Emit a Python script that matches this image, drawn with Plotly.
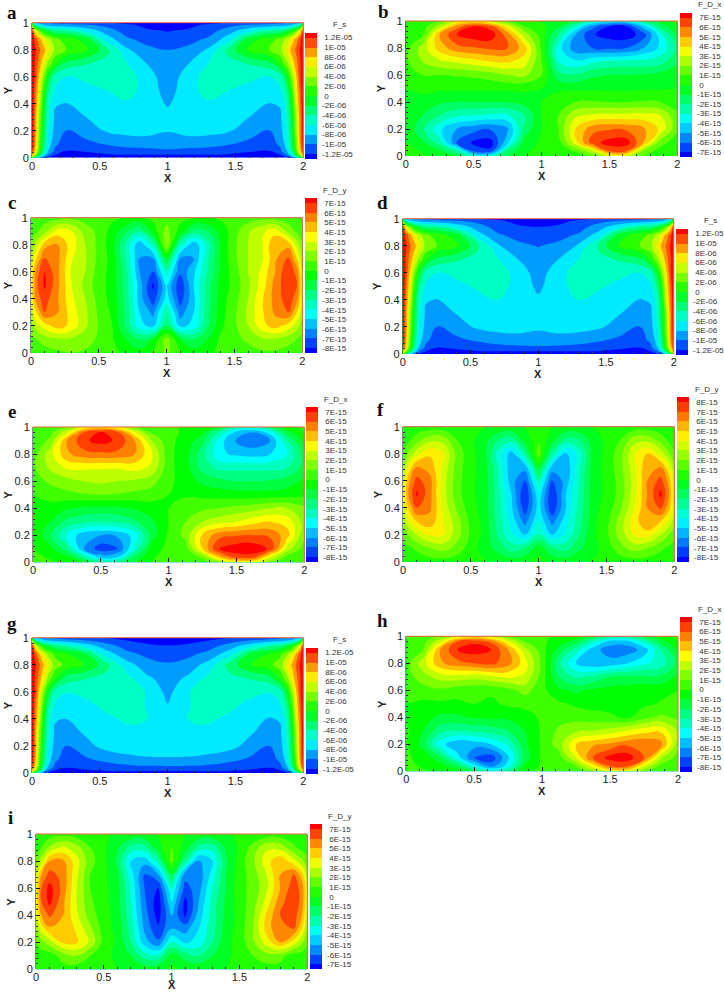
import plotly.graph_objects as go

# ---------- grids ----------
FS_X = [0,.02,.05,.08,.12,.17,.25,.4,.55,.7,.85,1,1.15,1.3,1.45,1.6,1.75,1.83,1.88,1.92,1.95,1.98,2]
FS_Y = [0,.02,.05,.1,.2,.3,.4,.5,.6,.7,.8,.88,.94,.98,1]
DX_X = [0,.125,.25,.375,.5,.625,.75,.875,1,1.125,1.25,1.375,1.5,1.625,1.75,1.875,2]
DX_Y = [0,.04,.1,.2,.3,.4,.5,.6,.7,.8,.9,.96,1]
DY_X = [0,.04,.1,.2,.3,.4,.5,.6,.7,.8,.9,1,1.1,1.2,1.3,1.4,1.5,1.6,1.7,1.8,1.9,1.96,2]
DY_Y = [0,.1,.2,.3,.4,.5,.6,.7,.8,.9,1]

# ---------- values (F_s in 1E-6, F_D in 1E-15), rows bottom to top ----------
A_FS = [
[2,-2,-6,-10,-12,-13,-13.5,-13,-13,-13,-13,-13,-13,-13,-13,-13,-13.5,-13,-12,-10,-6,-2,2],
[9,5,-1,-6,-10,-12,-12.8,-12.5,-12.2,-12.1,-12.1,-12.1,-12.1,-12.1,-12.2,-12.5,-12.8,-12,-10,-6,-1,5,9],
[12,8,2,-3,-8,-10.5,-12,-11.8,-11.2,-10.7,-10.6,-10.4,-10.6,-10.7,-11.2,-11.8,-12,-10.5,-8,-3,2,8,12],
[13,9.5,3,-2,-7,-9.6,-11,-10.6,-9.9,-9.4,-9.1,-8.9,-9.1,-9.4,-9.9,-10.6,-11,-9.6,-7,-2,3,9.5,13],
[13.5,10,4,-1,-6,-8.8,-10.1,-9,-7.8,-7.3,-7.3,-7.9,-7.3,-7.3,-7.8,-9,-10.1,-8.8,-6,-1,4,10,13.5],
[14,10,4.5,-.5,-5.5,-8.4,-9,-8,-7,-6.8,-6.9,-7.3,-6.9,-6.8,-7,-8,-9,-8.4,-5.5,-.5,4.5,10,14],
[14,10.5,6,.5,-5,-7.8,-8.1,-7.2,-6.6,-6.3,-6.9,-8.2,-6.9,-6.3,-6.6,-7.2,-8.1,-7.8,-5,.5,6,10.5,14],
[14,11,7,2,-3.5,-6.3,-6.6,-6.5,-6,-5.2,-6.9,-8.8,-6.9,-5.2,-6,-6.5,-6.6,-6.3,-3.5,2,7,11,14],
[14,12,8,4,-1,-5,-6.1,-5.6,-5.2,-4.8,-7.3,-8.9,-7.3,-4.8,-5.2,-5.6,-6.1,-5,-1,4,8,12,14],
[14,12,9.5,7,3.5,.5,-2.5,-3.8,-4.8,-6,-8.1,-9.2,-8.1,-6,-4.8,-3.8,-2.5,.5,3.5,7,9.5,12,14],
[14,12.5,10.5,9,6.5,3.5,2,.5,-3.3,-7.7,-9.5,-10,-9.5,-7.7,-3.3,.5,2,3.5,6.5,9,10.5,12.5,14],
[14,11.5,9,7,4.5,2.5,1,-1,-7,-9.7,-10.7,-11.2,-10.7,-9.7,-7,-1,1,2.5,4.5,7,9,11.5,14],
[12,7,3,0,-2,-3.5,-4,-6.5,-9,-10.9,-11.7,-12.1,-11.7,-10.9,-9,-6.5,-4,-3.5,-2,0,3,7,12],
[4,-3,-6,-7.5,-8,-8.5,-9,-9.6,-10.5,-11.5,-12.5,-13,-12.5,-11.5,-10.5,-9.6,-9,-8.5,-8,-7.5,-6,-3,4],
[0,-8,-9,-9.5,-10,-10.5,-11,-11.5,-12,-12.5,-13.5,-14,-13.5,-12.5,-12,-11.5,-11,-10.5,-10,-9.5,-9,-8,0],
]
D_FS = [
[2,-2,-6,-10,-12,-13,-13.5,-13,-13,-13,-13,-13,-13,-13,-13,-13,-13.5,-13,-12,-10,-6,-2,2],
[9,5,-1,-6,-10,-12,-12.8,-12.4,-12.1,-12,-12,-12,-12,-12,-12.1,-12.4,-12.8,-12,-10,-6,-1,5,9],
[12,8,2,-3,-8,-10.5,-11.9,-11.6,-11.1,-10.6,-10.4,-10.3,-10.4,-10.6,-11.1,-11.6,-11.9,-10.5,-8,-3,2,8,12],
[13,9.5,3,-2,-7,-9.6,-10.9,-10.5,-9.8,-9.2,-8.9,-8.8,-8.9,-9.2,-9.8,-10.5,-10.9,-9.6,-7,-2,3,9.5,13],
[13.5,10,4,-1,-6,-8.8,-10.1,-8.9,-7.7,-7.2,-7.2,-7.7,-7.2,-7.2,-7.7,-8.9,-10.1,-8.8,-6,-1,4,10,13.5],
[14,10,4.5,-.5,-5.5,-8.4,-9,-7.9,-6.9,-6.7,-6.8,-7.1,-6.8,-6.7,-6.9,-7.9,-9,-8.4,-5.5,-.5,4.5,10,14],
[14,10.5,6,.5,-5,-7.8,-8.1,-7.1,-6.5,-6,-6.7,-7.7,-6.7,-6,-6.5,-7.1,-8.1,-7.8,-5,.5,6,10.5,14],
[14,11,7,2,-3.5,-6.3,-6.6,-6.4,-5.8,-5.1,-6.8,-8.4,-6.8,-5.1,-5.8,-6.4,-6.6,-6.3,-3.5,2,7,11,14],
[14,12,8,4,-1,-5,-6.1,-5.6,-5.1,-4.7,-7,-8.8,-7,-4.7,-5.1,-5.6,-6.1,-5,-1,4,8,12,14],
[14,12,9.5,7,3.5,.5,-2.5,-3.7,-4.7,-5.9,-8,-9.2,-8,-5.9,-4.7,-3.7,-2.5,.5,3.5,7,9.5,12,14],
[14,12.5,10.5,9,6.5,3.5,2,.5,-3.5,-7.7,-9.5,-10.1,-9.5,-7.7,-3.5,.5,2,3.5,6.5,9,10.5,12.5,14],
[14,11.5,9,7,4.5,2.5,1,-1,-7,-9.7,-10.7,-11.2,-10.7,-9.7,-7,-1,1,2.5,4.5,7,9,11.5,14],
[12,7,3,0,-2,-3.5,-4,-6.5,-9,-10.9,-11.7,-12,-11.7,-10.9,-9,-6.5,-4,-3.5,-2,0,3,7,12],
[4,-3,-6,-7.5,-8,-8.5,-9,-9.6,-10.5,-11.5,-12.5,-13,-12.5,-11.5,-10.5,-9.6,-9,-8.5,-8,-7.5,-6,-3,4],
[0,-8,-9,-9.5,-10,-10.5,-11,-11.5,-12,-12.5,-13.5,-14,-13.5,-12.5,-12,-11.5,-11,-10.5,-10,-9.5,-9,-8,0],
]
G_FS = [
[2,-2,-6,-10,-12,-13,-13.2,-12.8,-12.6,-12.6,-12.6,-12.6,-12.6,-12.6,-12.6,-12.8,-13.2,-13,-12,-10,-6,-2,2],
[9,5,-1,-6,-10,-12,-12.5,-12.1,-11.8,-11.7,-11.8,-11.8,-11.8,-11.7,-11.8,-12.1,-12.5,-12,-10,-6,-1,5,9],
[12,8,2,-3,-8,-10.5,-11.7,-11.3,-10.9,-10.4,-10.1,-10,-10.1,-10.4,-10.9,-11.3,-11.7,-10.5,-8,-3,2,8,12],
[13,9.5,3,-2,-7,-9.6,-10.8,-10.3,-9.4,-8.7,-8.3,-8.2,-8.3,-8.7,-9.4,-10.3,-10.9,-9.6,-7,-2,3,9.5,13],
[13.5,10,4,-1,-6,-8.8,-10,-8.6,-7.3,-6.9,-6.9,-7.1,-6.9,-6.9,-7.3,-8.6,-10,-8.8,-6,-1,4,10,13.5],
[14,10,4.5,-.5,-5.5,-8.4,-8.9,-7.7,-6.7,-6.3,-6.3,-6.5,-6.3,-6.3,-6.7,-7.7,-8.9,-8.4,-5.5,-.5,4.5,10,14],
[14,10.5,6,.5,-5,-7.8,-8,-7,-6.3,-5.8,-6,-7.1,-6,-5.8,-6.3,-7,-8.2,-7.8,-5,.5,6,10.5,14],
[14,11,7,2,-3.5,-6.3,-6.8,-6.4,-5.6,-4.8,-6.2,-7.9,-6.2,-4.8,-5.6,-6.4,-6.8,-6.3,-3.5,2,7,11,14],
[14,12,8,4,-1,-5,-5.9,-5.5,-5,-4.6,-6.2,-8.6,-6.2,-4.6,-5,-5.5,-5.9,-5,-1,4,8,12,14],
[14,12,9.5,7,3.5,.5,-2.8,-3.9,-4.6,-5.4,-7.6,-9,-7.6,-5.4,-4.6,-3.9,-2.8,.5,3.5,7,9.5,12,14],
[14,12.5,10.5,8.5,6,3,1.5,-.2,-3.4,-7.2,-9.2,-9.8,-9.2,-7.2,-3.4,-.2,1.5,3,6,8.5,10.5,12.5,14],
[14,11.5,8.5,6,3.5,1.5,.2,-2,-7,-9.4,-10.5,-10.9,-10.5,-9.4,-7,-2,.2,1.5,3.5,6,8.5,11.5,14],
[12,7,3,0,-2,-3.5,-4.5,-7,-9.2,-10.9,-11.6,-11.9,-11.6,-10.9,-9.2,-7,-4.5,-3.5,-2,0,3,7,12],
[4,-3,-6,-7.5,-8,-8.5,-9.2,-10,-11,-12,-12.6,-13,-12.6,-12,-11,-10,-9.2,-8.5,-8,-7.5,-6,-3,4],
[0,-8,-9,-9.5,-10,-10.5,-11,-11.5,-12,-12.5,-13.5,-14,-13.5,-12.5,-12,-11.5,-11,-10.5,-10,-9.5,-9,-8,0],
]
B_DX = [
[.3,.1,-.2,-1,-3,-3,-1,0,.3,0,.3,1.2,3,3,1,.2,.2],
[.3,-.1,-.8,-2.5,-6.5,-6.8,-1.8,-.2,.3,.3,1.2,3,6.4,6.2,2,.5,.3],
[0,-.8,-2.5,-6,-7.2,-7.4,-4.2,-.6,.2,.5,3.5,6.6,7.4,7.5,5,1.5,.3],
[0,-1.8,-3.8,-5,-5.6,-5.9,-5.2,-1.6,0,1,4,5.6,5.9,5.8,5.2,3.8,1.2],
[0,-1,-2,-2.8,-3,-3.2,-3.2,-2,0,1,2.8,3.2,3.3,3.3,3.4,3,1.2],
[0,-.3,-.8,-1,-1,-1,-.9,-.6,0,.5,1,1.1,1,1,1.1,1,.4],
[0,.2,.2,.2,.2,.2,.2,.2,0,-.2,-.2,-.2,-.2,-.2,-.1,-.1,0],
[.5,1,1,1.1,1.2,1.5,2,2.2,1,-1.6,-1.9,-1.2,-1,-1,-.9,-.7,-.3],
[.8,2,2.8,3.2,3.6,4,4.2,3.5,1,-3,-3.8,-3.2,-2.8,-2.7,-2.7,-2.4,-1.2],
[.6,2.5,4.5,5.6,5.9,6.2,6,4.5,.8,-3.6,-5.6,-6,-6.2,-6,-5,-3.8,-1.8],
[.3,.8,5,7,7.6,7.6,5.5,2.5,.5,-2,-5,-6.9,-7.4,-7.6,-6.5,-3.4,-.8],
[.1,.5,2.5,5.5,7,6.5,3.5,1,.3,-.8,-3,-5.6,-7,-7,-4.5,-1.5,-.3],
[0,.2,1,3,3.5,2.5,1,.3,0,-.3,-1,-2.5,-3.5,-3.5,-2,-.6,.3],
]
E_DX = [
[.3,.1,-.2,-1,-2.5,-2.5,-1,0,.2,0,.5,1.8,3,3,1.2,.3,.2],
[.2,-.1,-.8,-3,-5.5,-5,-1.8,-.1,.3,.3,1.2,4.5,6.5,6.5,3,.6,.3],
[0,-.7,-2.5,-6,-7.6,-7,-3.8,-.5,.3,.5,4,7.2,7.6,7.7,6.8,2.5,.5],
[0,-1.8,-4.2,-5.6,-6,-5.8,-4.6,-1.5,.2,1.3,4.2,5.6,5.9,6,5.8,4.4,1.2],
[0,-1,-2.3,-2.8,-3,-2.8,-2.2,-1.2,0,1,2,2.6,3,3.6,4,3.6,1.6],
[0,-.4,-.9,-1.2,-1.3,-1.2,-.9,-.5,0,.4,.8,1,1.3,1.6,2,2,1.2],
[0,.4,.7,.9,1,.9,.7,.5,0,-.1,-.3,-.4,-.5,-.6,-.6,-.5,-.2],
[.5,1.2,1.6,2,2.2,2,1.8,1.4,.2,-.4,-1.3,-1.7,-2,-2,-1.9,-1.5,-.8],
[.8,2.2,3.2,3.2,3.1,3.1,3.4,2.8,.3,-.6,-2.4,-3.3,-3.3,-3.3,-3.3,-3,-1.6],
[.5,2.6,4.8,5.6,5.8,5.7,5,3.2,.3,-.6,-2.6,-4.8,-5.2,-5.4,-5,-4,-1.6],
[.3,1.2,5,6.8,7.4,6.8,5,2,.3,-.4,-1.6,-4.5,-6.2,-6.7,-6,-3,-.6],
[.1,.6,2.8,6,7.2,6.2,3.2,.8,.3,-.2,-.8,-3.2,-5.3,-6,-4.6,-1.4,-.2],
[0,.2,1,3,3.8,3,1,.3,.2,-.1,-.3,-1.2,-3,-3.5,-2,-.5,.2],
]
H_DX = [
[.3,.1,-.2,-.5,-1.8,-3.2,-2.4,-.2,.2,.2,.5,1.8,3.2,3.2,1.2,.2,.2],
[.2,-.1,-.6,-1.8,-4.5,-6.5,-4.5,-.8,.2,.3,1,3.5,6,6.2,3,.6,.3],
[.2,-.4,-1.6,-4.5,-7,-7.6,-5.2,-1.5,.2,.5,3,6.2,7.4,7.6,6,2.2,.5],
[.2,-1.4,-4.6,-5.8,-5.6,-5,-3.8,-1.2,.2,1.5,4,4.8,5.2,5.8,6,5.4,1.4],
[.2,-1,-2.6,-3,-2.8,-2.5,-2,-1,.2,1.2,1.8,2,2.4,3,3.6,3.8,1.8],
[0,-.6,-1.2,-1.2,-.9,-.8,-.8,-.4,.2,.6,.6,.4,.2,-.2,.6,1.2,.8],
[0,-.2,-.2,-.2,0,-.2,.2,.3,.2,.2,-.2,-.4,-.4,-.2,-.2,.1,.2],
[.3,.5,.8,.4,.2,.2,.6,1.4,.3,-.8,-1.2,-.8,-.6,-.5,-.3,-.3,0],
[.5,1.6,2.4,2.6,2.4,2.8,3.2,2.8,.5,-2,-3.2,-2.8,-2,-1.8,-1.8,-1.8,-.8],
[.5,2.6,4.8,5.6,6,6.3,5.4,3.4,.7,-2.8,-5,-5.8,-5.6,-5,-4.2,-3.6,-1.6],
[.3,1,5,7,7.5,7,5,2.4,.4,-1.4,-3.4,-5.6,-6.5,-6.6,-5.6,-3,-.8],
[.2,.6,2.8,6,6.8,5.8,3.2,1,.2,-.5,-1.5,-3.6,-5.5,-5.5,-3.6,-1.4,-.2],
[0,.2,1,2.6,3.5,2.6,1,.3,.1,-.1,-.3,-1.4,-2.6,-2.6,-1.6,-.5,.4],
]
C_DY = [
[.4,.4,.5,.8,1,.8,.3,.2,-.2,-.6,.2,1.2,.2,-.6,-.2,.2,.3,.6,.8,.8,.5,.4,.4],
[.8,1,1.5,1.8,1.8,1.5,.8,.1,-1,-2,-1,1.5,-1,-2,-1,.2,.7,1.2,1.8,1.8,1.4,1,.7],
[1.5,2.5,3.5,4.6,3.6,2.2,.9,0,-2.2,-4.6,-5.4,-2,-5.4,-4.6,-2.2,-.2,.8,2,3.6,4.5,3.5,2.5,1.4],
[2.5,4,6,5,3.5,2.2,.8,-.2,-2.2,-5,-6.3,-3,-6.5,-5,-2.3,-.4,.8,2.2,3.8,5.2,6,4,2.5],
[3,5.5,6.5,5,3.2,2,.6,-.4,-2.4,-5.5,-7.6,-4.5,-7.5,-5.2,-2.5,-.5,.6,2,3.8,5.4,6.6,5.4,3],
[3.2,5.8,7.2,5.2,3,1.7,.4,-.4,-2.5,-5.5,-8.2,-5,-7.8,-5,-2.5,-.6,.4,1.8,3.4,5.4,6.8,6,3.2],
[3,5.5,7,5.2,2.8,2,.5,-.4,-2.6,-6,-7,-3.5,-6.8,-5.2,-3,-.8,.5,2,3.2,5,7,5.5,3],
[2.2,4,6,5.2,3.1,2.1,.7,-.4,-3,-6,-6,-1,-6,-6,-3.2,-.8,.8,2,2.8,4.8,6.2,4,2],
[1.2,2.5,4.6,5,3.5,2,.7,-.6,-3.2,-5.8,-3.5,2,-3.5,-5.8,-3.5,-.8,.8,2,2.8,5,4.6,2.5,1.2],
[.4,.8,1.6,3.5,3,1.5,.7,-.4,-1.8,-2.8,-.6,1.4,-.4,-2.4,-2,-.6,.6,1.8,2.8,3.5,1.6,.8,.4],
[.2,.3,.4,.6,.8,.6,.4,.2,0,-.2,.3,.6,.3,0,0,.2,.4,.5,.7,.6,.4,.3,.2],
]
F_DY = [
[.3,.3,.4,.5,.5,.4,.2,.1,-.2,-.4,-.2,.3,-.2,-.4,-.2,.1,.2,.4,.5,.5,.4,.3,.3],
[.6,.8,1.2,2,2.4,1.6,.4,-.4,-1.4,-2.5,-2,-.4,-2,-2.4,-1.2,-.3,.4,1.6,2.4,2,1.2,.8,.6],
[1.4,2,3,4.2,4,2.4,.8,-.3,-2.2,-3.8,-5,-3,-5,-3.8,-2,-.2,.8,2.4,4,4.5,3,2,1.4],
[2.5,3.8,5,5.6,4,2.4,.7,-.3,-2.4,-4.4,-6.4,-4,-6.4,-4.4,-2.4,-.3,.7,2.4,4.4,6,5,3.8,2.5],
[3.2,5,7,6.2,3.6,1.8,.4,-.4,-2.6,-4.8,-7.6,-4.5,-7.8,-5,-2.6,-.4,.4,1.8,3.8,6,7.2,5.4,3.2],
[3.6,6,8.2,6.3,3.4,1.4,.2,-.4,-2.6,-5,-8,-4.2,-8,-5,-2.8,-.4,.2,1.4,3.5,6,8.3,6,3.6],
[3.2,5.6,7.4,6.3,3.4,1.4,.2,-.4,-2.8,-5.6,-7,-3,-7,-5.6,-3,-.4,.2,1.4,3.4,6,7.4,5.6,3.2],
[2.4,4.2,6,5.6,3.6,1.5,.3,-.4,-3,-5.8,-5.6,-.5,-5.4,-5.8,-3.2,-.5,.3,1.6,3.6,5.8,6,4.2,2.4],
[1.2,2.2,3.6,4.8,4,1.6,.3,-.6,-3.4,-5.5,-2.6,1.6,-2.6,-5.2,-3.6,-.6,.3,1.6,3.8,5,3.6,2.2,1.2],
[.4,.8,1.6,2.8,2.6,1,.2,-.5,-2,-2.6,-.6,.8,-.6,-2.4,-2,-.5,.2,1,2.6,2.8,1.6,.8,.4],
[.1,.2,.3,.4,.4,.2,.1,0,-.1,-.2,0,.2,0,-.2,-.1,0,.1,.2,.4,.4,.3,.2,.1],
]
I_DY = [
[.3,.3,.4,.6,.4,.2,.1,0,-.1,-.3,-.2,.2,-.1,-.2,-.1,0,.1,.3,.5,.6,.4,.3,.3],
[.4,.5,.4,1.5,2,1,.3,-.2,-1,-2.5,-2.8,-.5,-1.5,-2,-1,-.2,.3,1,1.6,1.4,.4,.5,.4],
[1,1.6,2.5,4.2,4.2,2.8,.6,-.2,-2,-4.5,-5.8,-3,-4.2,-3.6,-2,-.3,.4,1.8,3.5,5,3.6,2.2,1.2],
[2,3.5,4.8,5,3.8,2.2,.5,-.3,-2.4,-5.2,-6.8,-5,-5.4,-4,-2.4,-.5,.4,2,4.4,6,6,4,2],
[3,5,6.2,5,3.2,1.5,.4,-.4,-2.8,-5.5,-7.4,-5,-7.2,-4.5,-2.5,-.7,.4,1.8,4.2,6,6.6,5,2.8],
[3.4,6,7.3,5.2,3,1.2,.3,-.5,-3,-5.8,-7.6,-4,-7.3,-5,-2.6,-.8,.5,1.5,3.4,5.6,6.8,5.6,3.2],
[3.3,6,7.4,5.6,3,1,.3,-.6,-3.2,-6,-7,-3,-6.4,-5.4,-3,-1,.7,1.3,2.8,5,6.6,5.6,3.2],
[2.8,5,6.4,5.6,3.2,1,.3,-.8,-3.6,-6,-5,-1,-5.6,-5.6,-3.6,-1,.5,1.5,3,5,6,4.5,2.5],
[1.4,2.6,5,5.2,3.4,1.4,.3,-1.2,-4,-4.6,-2.6,1.4,-2.2,-5.2,-4,-1.2,.4,1.8,3.6,4.8,3.4,2.2,1.4],
[.5,1,2.2,3.2,2.4,1,.2,-.8,-2.4,-2.4,-.4,1,-.4,-2.4,-2.6,-.8,.2,1.4,2.8,2.6,1.2,.6,.3],
[.2,.3,.4,.6,.4,.2,.1,-.1,-.2,-.2,0,.2,0,-.2,-.2,-.1,.1,.2,.4,.4,.3,.2,.1],
]
FS_LABELS = {12:"1.2E-05",10:"1E-05",8:"8E-06",6:"6E-06",4:"4E-06",2:"2E-06",0:"0",-2:"-2E-06",-4:"-4E-06",-6:"-6E-06",-8:"-8E-06",-10:"-1E-05",-12:"-1.2E-05"}
def d_label(v):
    return "0" if v == 0 else f"{v}E-15"

W, H = 724, 992
# letter, title, x, y, z, lo, hi, step, plot box (L,R,T,B), bar box (L,T,B), letter position
PANELS = [
 ("a","F_s",FS_X,FS_Y,A_FS,-12,12,2,(32,303.3,22.7,157.7),(305,32.7,158.7),(12,13)),
 ("b","F_D_x",DX_X,DX_Y,B_DX,-7,7,1,(405.7,677.3,21,156),(680.3,12.3,156.7),(383,12)),
 ("c","F_D_y",DY_X,DY_Y,C_DY,-8,7,1,(31,302.3,217.7,352.7),(305,198.3,353.3),(12,203)),
 ("d","F_s",FS_X,FS_Y,D_FS,-12,12,2,(402.7,673.7,218.7,354),(676,228.7,354.7),(382,202)),
 ("e","F_D_x",DX_X,DX_Y,E_DX,-8,7,1,(33,304.3,427,562.3),(306.3,407,562),(12,411)),
 ("f","F_D_y",DY_X,DY_Y,F_DY,-8,8,1,(403,674.3,426.7,561.7),(677.3,397.7,562.3),(380,409)),
 ("g","F_s",FS_X,FS_Y,G_FS,-12,12,2,(32,303.3,637.7,773),(305.7,647.3,773.7),(12,623)),
 ("h","F_D_x",DX_X,DX_Y,H_DX,-8,7,1,(406.3,678,636.3,771.3),(680.3,617.3,772),(382,620)),
 ("i","F_D_y",DY_X,DY_Y,I_DY,-7,7,1,(36,307.3,834,969.3),(309.7,824,969.3),(10,817)),
]

def rainbow(n):
    stops = [(0,0,255),(0,255,255),(0,255,0),(255,255,0),(255,0,0)]
    out = []
    for k in range(n):
        t = k/(n-1)*4
        i = min(int(t),3); f = t-i
        c = [round(stops[i][j]+(stops[i+1][j]-stops[i][j])*f) for j in range(3)]
        out.append([k/(n-1), f"rgb({c[0]},{c[1]},{c[2]})"])
    return out

SANS = "Liberation Sans"
fig = go.Figure()
annos, shapes, axes = [], [], {}
for i,(let,title,x,y,z,lo,hi,step,box,bar,lp) in enumerate(PANELS):
    L,R,T,B = box; bx,bt,bb = bar
    n = i+1; xa = "x" if i==0 else f"x{n}"; ya = "y" if i==0 else f"y{n}"
    levels = list(range(lo,hi+step,step))
    labels = [FS_LABELS[v] if title=="F_s" else d_label(v) for v in levels]
    labels = [s if s.startswith("-") else "\u00a0"+s for s in labels]
    nb = len(levels)+1
    fig.add_trace(go.Contour(
        x=x,y=y,z=z,xaxis=xa,yaxis=ya,autocontour=False,
        contours=dict(start=lo,end=hi,size=step,coloring="fill",showlines=False),
        line=dict(width=0,smoothing=1.3),colorscale=rainbow(nb),
        colorbar=dict(x=bx/W,xanchor="left",xpad=0,ypad=0,y=1-bb/H,yanchor="bottom",
            thickness=12,lenmode="pixels",len=bb-bt,outlinewidth=0,
            tickvals=levels,ticktext=labels,ticks="outside",ticklen=4,tickcolor="rgba(0,0,0,0)",
            tickfont=dict(family=SANS,size=8,color="#333"))))
    axes["xaxis" if i==0 else f"xaxis{n}"] = dict(domain=[L/W,R/W],range=[0,2],anchor=ya,
        tickvals=[0,.5,1,1.5,2],ticktext=["0","0.5","1","1.5","2"],ticks="inside",ticklen=4,tickwidth=1,tickcolor="#111",
        minor=dict(dtick=.1,ticks="inside",ticklen=2,tickcolor="#333"),
        showgrid=False,zeroline=False,tickfont=dict(family=SANS,size=11,color="#222"),showline=False)
    axes["yaxis" if i==0 else f"yaxis{n}"] = dict(domain=[1-B/H,1-T/H],range=[0,1],anchor=xa,
        tickvals=[0,.2,.4,.6,.8,1],ticktext=["0","0.2","0.4","0.6","0.8","1"],ticks="inside",ticklen=4,tickwidth=1,tickcolor="#111",
        minor=dict(dtick=.04,ticks="inside",ticklen=2,tickcolor="#333"),
        showgrid=False,zeroline=False,tickfont=dict(family=SANS,size=11,color="#222"),
        showline=True,linecolor="rgba(40,40,40,0.55)",linewidth=1)
    for (x0,y0,x1,y1) in [(L,T,R,T),(R,T,R,B)]:
        shapes.append(dict(type="line",xref="paper",yref="paper",x0=x0/W,x1=x1/W,y0=1-y0/H,y1=1-y1/H,
                           line=dict(color="#e8603c",width=1)))
    def note(px,py,text,size,family=SANS,bold=False,angle=0,color="#222"):
        annos.append(dict(xref="paper",yref="paper",x=px/W,y=1-py/H,xanchor="center",yanchor="middle",
            text=f"<b>{text}</b>" if bold else text,showarrow=False,textangle=angle,
            font=dict(family=family,size=size,color=color)))
    note((L+R)/2,min(B+20,984.5),"X",11,bold=True)
    note(max(L-25,8),(T+B)/2,"Y",11,bold=True,angle=-90)
    note(bx+(34 if title=="F_s" else 30),bt-8,title,8,color="#333")
    note(lp[0],lp[1],let,19,family="Liberation Serif",bold=True,color="#111")

fig.update_layout(width=W,height=H,margin=dict(l=0,r=0,t=0,b=0,autoexpand=False),autosize=False,
    paper_bgcolor="white",plot_bgcolor="white",showlegend=False,annotations=annos,shapes=shapes,**axes)
fig.write_html("out.html",config={"displayModeBar":False},post_script="document.body.style.margin='0';")
